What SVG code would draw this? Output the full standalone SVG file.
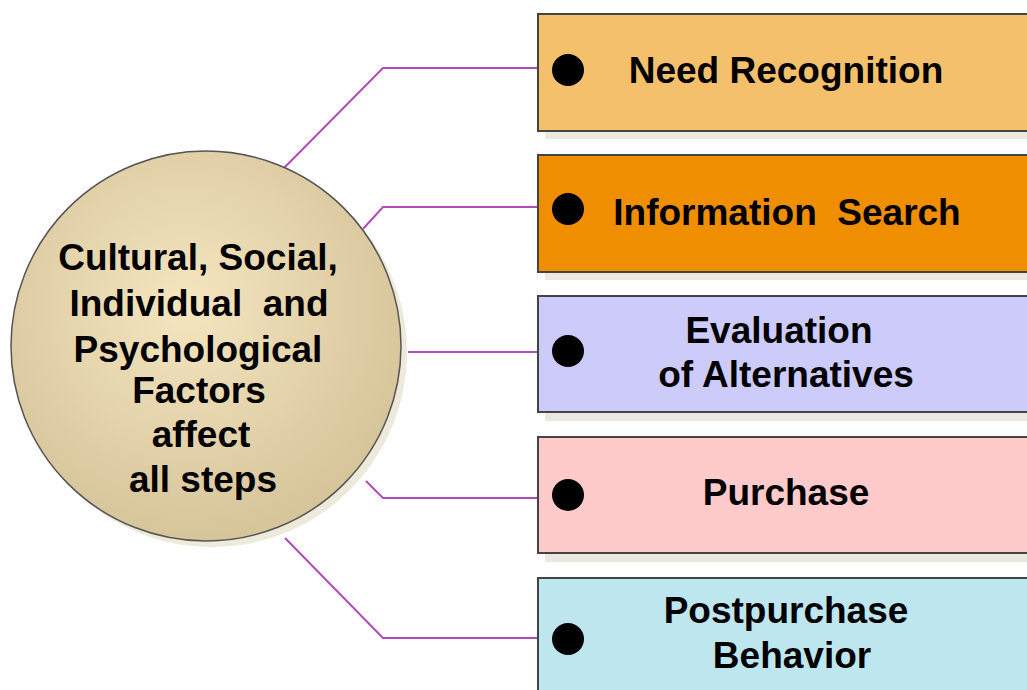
<svg xmlns="http://www.w3.org/2000/svg" width="1027" height="690" viewBox="0 0 1027 690">
<defs>
<radialGradient id="cg" cx="0.45" cy="0.4" r="0.6">
<stop offset="0" stop-color="#f5e6c0"/>
<stop offset="1" stop-color="#d6c49a"/>
</radialGradient>
<style>
.lbl{font-family:"Liberation Sans",Arial,sans-serif;font-weight:bold;font-size:37px;fill:#000;text-anchor:middle}
.box{stroke:#444;stroke-width:2}
.shd{fill:#ebe9df}
.dot{fill:#000}
.con{fill:none;stroke:#b04cb8;stroke-width:2}
</style>
</defs>
<rect width="1027" height="690" fill="#fff"/>
<g id="connectors">
<polyline class="con" points="283,169 383,68 568,68"/>
<polyline class="con" points="362,230 383,207 568,207"/>
<polyline class="con" points="408,352 568,352"/>
<polyline class="con" points="366,481 383,498 568,498"/>
<polyline class="con" points="285,538 383,638 568,638"/>
</g>
<g id="factors">
<circle cx="212" cy="352" r="195" fill="#edeadb"/>
<circle cx="206" cy="346" r="195" fill="url(#cg)" stroke="#555" stroke-width="1.5"/>
<text class="lbl" x="198" y="270">Cultural, Social,</text>
<text class="lbl" x="199" y="316" xml:space="preserve">Individual  and</text>
<text class="lbl" x="198" y="362">Psychological</text>
<text class="lbl" x="199" y="403">Factors</text>
<text class="lbl" x="201" y="447">affect</text>
<text class="lbl" x="203" y="492">all steps</text>
</g>
<g id="need-recognition">
<rect class="shd" x="545" y="22" width="500" height="117"/>
<rect class="box" x="538" y="14" width="500" height="117" fill="#f5c06b"/>
<circle class="dot" cx="568" cy="70" r="16"/>
<text class="lbl" x="786" y="83">Need Recognition</text>
</g>
<g id="information-search">
<rect class="shd" x="545" y="163" width="500" height="117"/>
<rect class="box" x="538" y="155" width="500" height="117" fill="#ee8e00"/>
<circle class="dot" cx="568" cy="209" r="16"/>
<text class="lbl" x="787" y="225" xml:space="preserve">Information  Search</text>
</g>
<g id="evaluation">
<rect class="shd" x="545" y="304" width="500" height="117"/>
<rect class="box" x="538" y="296" width="500" height="116" fill="#cccbfa"/>
<circle class="dot" cx="568" cy="351" r="16"/>
<text class="lbl" x="779" y="343">Evaluation</text>
<text class="lbl" x="786" y="387">of Alternatives</text>
</g>
<g id="purchase">
<rect class="shd" x="545" y="445" width="500" height="117"/>
<rect class="box" x="538" y="437" width="500" height="116" fill="#fecaca"/>
<circle class="dot" cx="568" cy="495" r="16"/>
<text class="lbl" x="786" y="505">Purchase</text>
</g>
<g id="postpurchase">
<rect class="box" x="538" y="578" width="500" height="130" fill="#bde6ee"/>
<circle class="dot" cx="568" cy="639" r="16"/>
<text class="lbl" x="786" y="623">Postpurchase</text>
<text class="lbl" x="792" y="668">Behavior</text>
</g>
</svg>
